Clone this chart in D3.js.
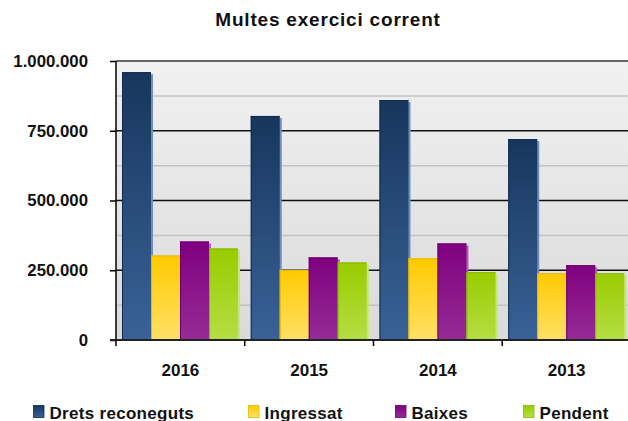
<!DOCTYPE html>
<html><head><meta charset="utf-8">
<script src="https://cdn.jsdelivr.net/npm/d3@7"></script>
<style>html,body{margin:0;padding:0;background:#fff;}svg{display:block;font-family:Arial,"Liberation Sans",sans-serif;}</style>
</head><body>
<script>
const categories = ["2016","2015","2014","2013"];
const seriesNames = ["Drets reconeguts","Ingressat","Baixes","Pendent"];
const dretsReconeguts = [960000, 803000, 860000, 720000];
const ingressat = [303000, 251000, 293000, 239000];
const baixes = [353000, 296000, 346000, 268000];
const pendent = [328000, 278000, 243000, 239000];
const yTicks = [0, 250000, 500000, 750000, 1000000];
const minorTicks = [125000, 375000, 625000, 875000];
const chartTitle = "Multes exercici corrent";

(function(){
const seriesValues = [dretsReconeguts, ingressat, baixes, pendent];
const colors = [
  {top:"#17365d", bot:"#3a6297", shadow:"#6f8fb8", edge:"#0f2a4d"},
  {top:"#ffca00", bot:"#ffe066", shadow:"#ffe680", edge:"#e6b800"},
  {top:"#7f007f", bot:"#962c96", shadow:"#b060b0", edge:"#6a006a"},
  {top:"#99cc00", bot:"#b5de44", shadow:"#c6e870", edge:"#88b800"}
];

const W = 628, H = 421;
const pL = 116, pR = 631, pT = 61, pB = 340;
const svg = d3.select("body").append("svg").attr("width", W).attr("height", H);
const defs = svg.append("defs");

const bg = defs.append("linearGradient").attr("id","bg").attr("x1",0).attr("y1",0).attr("x2",0).attr("y2",1);
bg.append("stop").attr("offset","0%").attr("stop-color","#f1f1f1");
bg.append("stop").attr("offset","100%").attr("stop-color","#dadada");
colors.forEach((c,i)=>{
  const g = defs.append("linearGradient").attr("id","g"+i).attr("x1",0).attr("y1",0).attr("x2",0).attr("y2",1);
  g.append("stop").attr("offset","0%").attr("stop-color",c.top);
  g.append("stop").attr("offset","100%").attr("stop-color",c.bot);
});

const x = d3.scaleBand().domain(categories).range([pL, pR]).padding(0);
const xs = d3.scaleBand().domain(d3.range(seriesNames.length)).range([6, 122]).padding(0);
const y = d3.scaleLinear().domain([0, 1000000]).range([pB, pT]);

svg.append("rect").attr("x", pL).attr("y", pT).attr("width", pR-pL).attr("height", pB-pT).attr("fill","url(#bg)");

svg.append("g").selectAll("line").data(minorTicks).join("line")
  .attr("x1", pL).attr("x2", pR).attr("y1", d=>y(d)).attr("y2", d=>y(d))
  .attr("stroke","#c2c2c2").attr("stroke-width",1.5);
svg.append("g").selectAll("line").data(yTicks.filter(d=>d>0 && d<1000000)).join("line")
  .attr("x1", pL).attr("x2", pR).attr("y1", d=>y(d)).attr("y2", d=>y(d))
  .attr("stroke","#111").attr("stroke-width",1.5);
svg.append("line").attr("x1", pL).attr("x2", pR).attr("y1", y(1000000)).attr("y2", y(1000000))
  .attr("stroke","#666").attr("stroke-width",2);

const groups = svg.append("g").selectAll("g").data(categories).join("g")
  .attr("transform", d=>`translate(${x(d)},0)`);
groups.each(function(cat, ci){
  const g = d3.select(this);
  seriesValues.forEach((vals, si)=>{
    const v = vals[ci];
    const bx = xs(si), bw = xs.bandwidth();
    g.append("rect").attr("x", bx+2).attr("y", y(v)+2).attr("width", bw).attr("height", pB - y(v) - 2)
      .attr("fill", colors[si].shadow);
    g.append("rect").attr("x", bx).attr("y", y(v)).attr("width", bw).attr("height", pB - y(v))
      .attr("fill", `url(#g${si})`);
    g.append("line").attr("x1", bx+0.5).attr("x2", bx+0.5).attr("y1", y(v)).attr("y2", pB)
      .attr("stroke", colors[si].edge).attr("stroke-width",1);
    g.append("line").attr("x1", bx).attr("x2", bx+bw).attr("y1", y(v)+0.5).attr("y2", y(v)+0.5)
      .attr("stroke", colors[si].edge).attr("stroke-width",1);
  });
});

const yAxis = svg.append("g").attr("transform", `translate(${pL},0)`)
  .call(d3.axisLeft(y).tickValues(yTicks).tickSize(6).tickPadding(22)
    .tickFormat(d => d3.format(",")(d).replace(/,/g,".")));
yAxis.select(".domain").attr("stroke","#000").attr("stroke-width",1.5).attr("d", `M0,${pT}V${pB}`);
yAxis.selectAll(".tick line").attr("stroke","#000").attr("stroke-width",1.5);
yAxis.selectAll(".tick text").attr("font-size","16.8px").attr("font-weight","bold").attr("fill","#111")
  .attr("font-family","Arial, 'Liberation Sans', sans-serif");

const xAxis = svg.append("g").attr("transform", `translate(0,${pB})`)
  .call(d3.axisBottom(x).tickSize(0).tickPadding(24));
xAxis.select(".domain").remove();
svg.append("line").attr("x1", pL-6).attr("x2", pR).attr("y1", pB).attr("y2", pB)
  .attr("stroke","#222").attr("stroke-width",2);
svg.append("g").selectAll("line").data(categories).join("line")
  .attr("x1", d=>x(d)).attr("x2", d=>x(d)).attr("y1", pB).attr("y2", pB+6)
  .attr("stroke","#000").attr("stroke-width",1.5);
xAxis.selectAll(".tick text").attr("font-size","17px").attr("font-weight","bold").attr("fill","#111")
  .attr("font-family","Arial, 'Liberation Sans', sans-serif");

svg.append("text").attr("x", 328).attr("y", 26).attr("text-anchor","middle")
  .attr("font-size","19px").attr("font-weight","bold").attr("fill","#111").attr("letter-spacing","0.8px")
  .text(chartTitle);

const legendX = [33.5, 248.5, 395.5, 523.5];
const lg = svg.append("g").selectAll("g").data(seriesNames).join("g")
  .attr("transform", (d,i)=>`translate(${legendX[i]},0)`);
lg.append("rect").attr("x",0).attr("y",405.5).attr("width",10.5).attr("height",12)
  .attr("fill",(d,i)=>`url(#g${i})`).attr("stroke",(d,i)=>colors[i].edge).attr("stroke-width",0.8);
lg.append("text").attr("x",16).attr("y",418.5).attr("font-size","17px").attr("font-weight","bold")
  .attr("fill","#111").attr("letter-spacing","0.3px").text(d=>d);
})();
</script>
</body></html>
